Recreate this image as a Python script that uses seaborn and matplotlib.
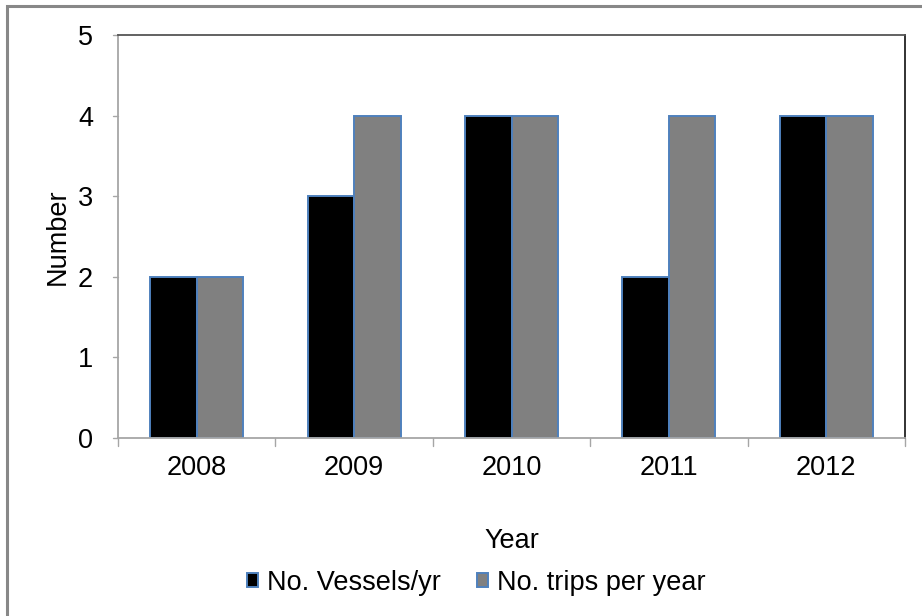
import numpy as np
import pandas as pd
import matplotlib.pyplot as plt
import seaborn as sns
from matplotlib.patches import Rectangle

# data
years = ['2008', '2009', '2010', '2011', '2012']
vessels = [2, 3, 4, 2, 4]
trips = [2, 4, 4, 4, 4]
series_names = ['No. Vessels/yr', 'No. trips per year']

df = pd.DataFrame({
    'Year': years * 2,
    'Number': vessels + trips,
    'Series': [series_names[0]] * len(years) + [series_names[1]] * len(years),
})

sns.set_style('white')
plt.rcParams['font.family'] = ['Liberation Sans', 'DejaVu Sans']
plt.rcParams['text.color'] = 'black'
plt.rcParams['axes.labelcolor'] = 'black'
plt.rcParams['xtick.color'] = 'black'
plt.rcParams['ytick.color'] = 'black'

FS = 19.5

fig = plt.figure(figsize=(9.22, 6.16), dpi=100)
ax = fig.add_axes([0.128, 0.289, 0.8536, 0.654])

sns.barplot(data=df, x='Year', y='Number', hue='Series',
            palette=['#000000', '#808080'], width=0.59,
            edgecolor='#4F81BD', linewidth=1.4, saturation=1, ax=ax)

ax.set_ylim(0, 5)
ax.set_xlim(-0.5, 4.5)
ax.set_yticks(range(6))
ax.tick_params(axis='both', labelsize=FS, length=0)
ax.tick_params(axis='x', pad=12)
ax.tick_params(axis='y', pad=18)
ax.set_xlabel('Year', fontsize=FS)
ax.set_ylabel('Number', fontsize=FS)
ax.xaxis.set_label_coords(0.5, -0.223)
ax.yaxis.set_label_coords(-0.06, 0.5)

# tick marks between categories, like Excel
for b in np.arange(-0.5, 5.0, 1.0):
    ax.plot([b, b], [0, -0.1], color='#A6A6A6', lw=1, clip_on=False)
for v in range(6):
    ax.plot([-0.5, -0.535], [v, v], color='#A6A6A6', lw=1, clip_on=False)

ax.spines['left'].set_color('#A6A6A6')
ax.spines['bottom'].set_color('#A6A6A6')
ax.spines['top'].set_color('#555555')
ax.spines['right'].set_color('#222222')
for s in ax.spines.values():
    s.set_linewidth(1.3)

handles, labels = ax.get_legend_handles_labels()
ax.legend(handles, labels, loc='center', bbox_to_anchor=(0.455, -0.36),
          ncol=2, frameon=False, fontsize=FS, handlelength=0.42,
          handleheight=0.42, handletextpad=0.3, columnspacing=1.35,
          borderaxespad=0)

# outer chart border
fig.patches.append(Rectangle((7 / 922, -0.05), 1.2, 1 - 6 / 616 + 0.05,
                             transform=fig.transFigure, fill=False,
                             edgecolor='#888888', lw=2.2))

fig.savefig('out.png', dpi=100)
